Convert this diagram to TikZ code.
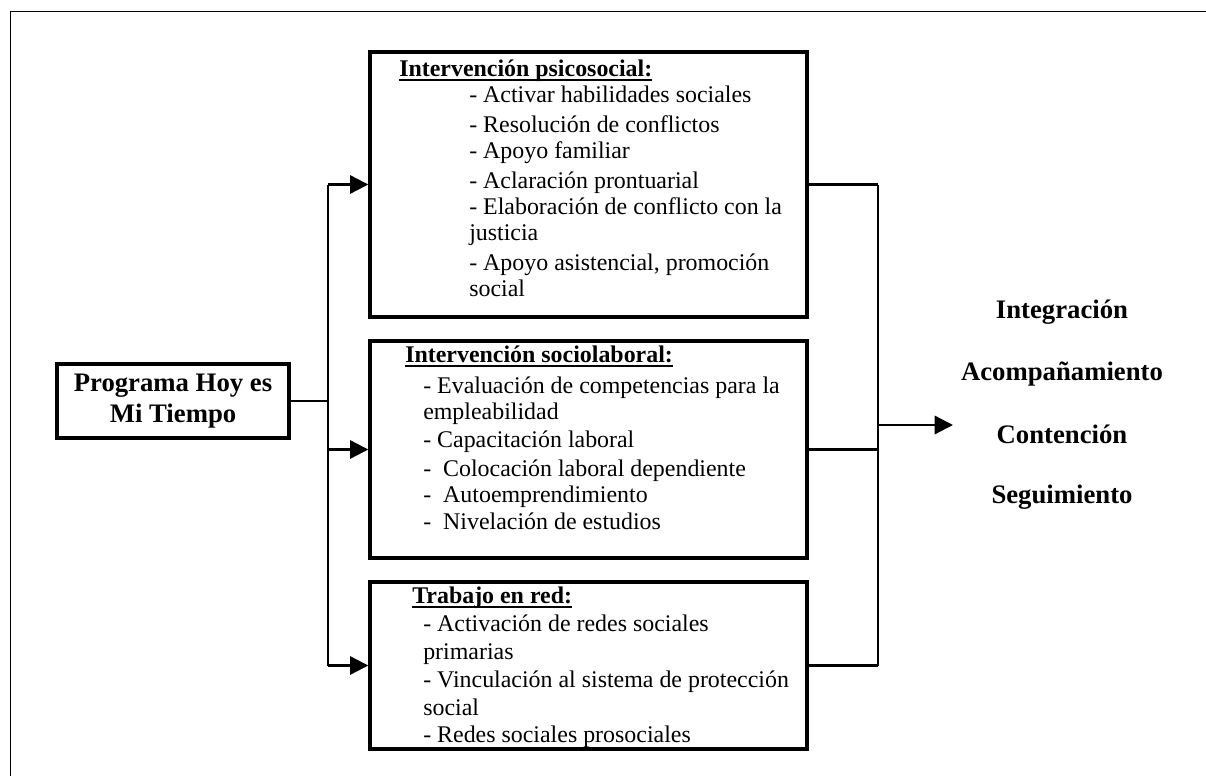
\documentclass[tikz,border=0pt]{standalone}
\usepackage{fontspec}
\setmainfont{Liberation Serif}
\usetikzlibrary{arrows.meta}
\newsavebox{\hdbox}
\newcommand{\hdline}[1]{\sbox{\hdbox}{#1}\rlap{\rule[-3.3pt]{\wd\hdbox}{1.3pt}}\usebox{\hdbox}}

\begin{document}
\begin{tikzpicture}[x=0.025cm,y=-0.025cm,
  box/.style={draw,line width=2.4pt,inner sep=0pt},
  conn/.style={line width=1.6pt},
  arr/.style={conn,-{Triangle[length=13pt,width=13pt]}},
  item/.style={anchor=base west,inner sep=0pt,font=\fontsize{17}{20}\selectfont},
  head/.style={item,font=\fontsize{17}{20}\selectfont\bfseries},
  result/.style={anchor=base,inner sep=0pt,font=\fontsize{19}{22}\selectfont\bfseries}]
  \useasboundingbox (0,0) rectangle (1206,776);
  % frame, cut off at right and bottom
  \draw[line width=1.1pt] (10.5,776) -- (10.5,11.5) -- (1206,11.5);

  % LEFT: programa
  \node[box,minimum width=165pt,minimum height=52.6pt,align=center,
        font=\fontsize{19}{22}\selectfont\bfseries] (prog) at (173,401) {Programa Hoy es\\Mi Tiempo};

  % MIDDLE: the three boxes
  \node[box,minimum width=310.8pt,minimum height=188.5pt] (psico) at (588.5,184.5) {};
  \node[box,minimum width=310.8pt,minimum height=154.4pt] (socio) at (588.5,449.5) {};
  \node[box,minimum width=310.8pt,minimum height=118.8pt] (red) at (588.5,665.5) {};

  \node[head] (psicoH) at (399,76) {\hdline{Intervención psicosocial:}};
  \foreach \y/\t [count=\i] in {102/{- Activar habilidades sociales},
      132/{- Resolución de conflictos},158/{- Apoyo familiar},
      188/{- Aclaración prontuarial},214/{- Elaboración de conflicto con la},
      240/{justicia},270/{- Apoyo asistencial, promoción},296/{social}}
    \node[item] (psico\i) at (469,\y) {\t};

  \node[head] (socioH) at (405,362) {\hdline{Intervención sociolaboral:}};
  \foreach \y/\t [count=\i] in {393/{- Evaluación de competencias para la},
      419/{empleabilidad},447/{- Capacitación laboral},
      476/{-~ Colocación laboral dependiente},502/{-~ Autoemprendimiento},
      529/{-~ Nivelación de estudios}}
    \node[item] (socio\i) at (423,\y) {\t};

  \node[head] (redH) at (412,603) {\hdline{Trabajo en red:}};
  \foreach \y/\t [count=\i] in {631/{- Activación de redes sociales},
      659/{primarias},687/{- Vinculación al sistema de protección},
      715/{social},742/{- Redes sociales prosociales}}
    \node[item] (red\i) at (423,\y) {\t};

  % connectors in
  \coordinate (split) at (328,401);
  \draw[conn] (prog.east) -- (split);
  \draw[conn] (split |- psico.west) -- (split |- red.west);
  \foreach \b in {psico,socio,red}
    \draw[arr] (split |- \b.west) -- (\b.west);

  % connectors out
  \coordinate (join) at (878,425);
  \foreach \b in {psico,socio,red}
    \draw[conn] (\b.east) -- (join |- \b.east);
  \draw[conn] (join |- psico.east) -- (join |- red.east);
  \coordinate (out) at (953,425);
  \draw[arr] (join) -- (out);

  % RIGHT: results
  \foreach \y/\t [count=\i] in {318/Integración,380/Acompañamiento,
      443/Contención,503/Seguimiento}
    \node[result] (res\i) at (1062,\y) {\t};
\end{tikzpicture}
\end{document}
